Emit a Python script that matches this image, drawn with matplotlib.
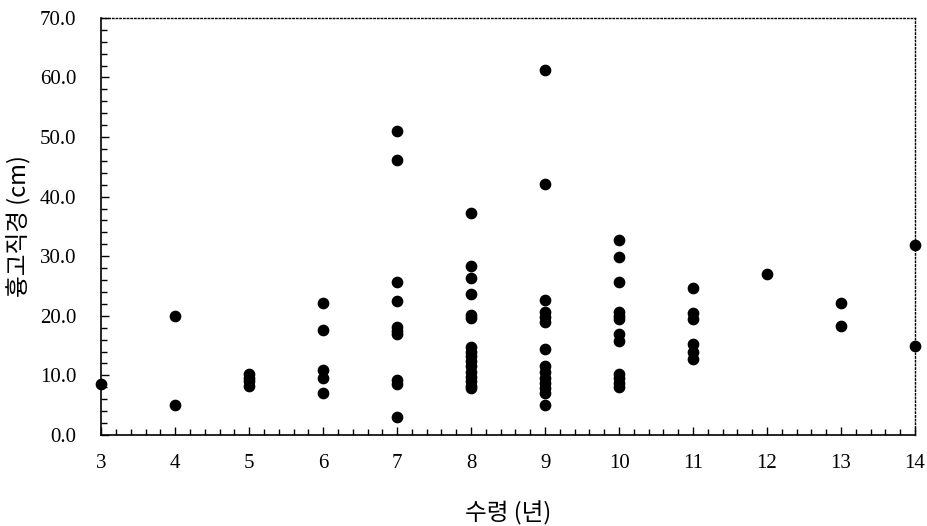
import numpy as np
import matplotlib.pyplot as plt
from matplotlib.ticker import MultipleLocator

plt.rcParams['font.family'] = ['Liberation Serif', 'DejaVu Serif']

# age (years) and DBH (cm)
age_3 = [8.6]
age_4 = [20.0, 5.0]
age_5 = [10.3, 9.6, 9.0, 8.3]
age_6 = [22.2, 17.6, 10.9, 9.5, 7.0]
age_7 = [51.0, 46.2, 25.6, 22.5, 18.1, 17.5, 16.9, 9.3, 8.5, 3.0]
age_8 = [37.2, 28.3, 26.3, 23.7, 20.2, 19.6, 14.8, 14.0, 13.2, 12.4,
         11.5, 10.6, 9.8, 9.0, 8.3, 7.9]
age_9 = [61.3, 42.1, 22.7, 20.6, 19.8, 19.0, 14.4, 11.6, 10.6, 9.6,
         8.7, 7.9, 7.1, 5.0]
age_10 = [32.7, 29.8, 25.7, 20.6, 20.0, 19.5, 16.9, 15.8, 10.3, 9.6,
          8.8, 8.0]
age_11 = [24.6, 20.4, 19.4, 15.3, 14.0, 12.7]
age_12 = [27.0]
age_13 = [22.1, 18.3]
age_14 = [31.9, 15.0]

columns = {3: age_3, 4: age_4, 5: age_5, 6: age_6, 7: age_7, 8: age_8,
           9: age_9, 10: age_10, 11: age_11, 12: age_12, 13: age_13, 14: age_14}

xs = []
ys = []
for age, vals in columns.items():
    xs += [age] * len(vals)
    ys += vals

fig = plt.figure(figsize=(9.28, 5.26), dpi=100)
ax = fig.add_axes([0.109, 0.173, 0.877, 0.793])

ax.scatter(xs, ys, s=55, color='black', zorder=3, clip_on=False)

ax.set_xlim(3, 14)
ax.set_ylim(0, 70)
ax.xaxis.set_major_locator(MultipleLocator(1))
ax.xaxis.set_minor_locator(MultipleLocator(0.2))
ax.yaxis.set_major_locator(MultipleLocator(10))
ax.yaxis.set_minor_locator(MultipleLocator(2))
ax.yaxis.set_major_formatter(plt.FuncFormatter(lambda v, p: f'{v:.1f}'))

ax.tick_params(which='both', direction='in', top=False, right=False,
               labelsize=15, width=1)
ax.tick_params(which='major', length=6)
ax.tick_params(which='minor', length=4)
ax.tick_params(axis='x', which='major', pad=14)
ax.tick_params(axis='y', which='major', pad=18)

for side in ['top', 'right']:
    ax.spines[side].set_linestyle(':')
    ax.spines[side].set_linewidth(1)
for side in ['left', 'bottom']:
    ax.spines[side].set_linewidth(1.2)

kfont = ['Noto Sans CJK KR', 'DejaVu Sans']
ax.set_xlabel('수령 (년)', family=kfont, fontsize=17, fontweight='medium', labelpad=20)
ax.set_ylabel('흉고직경 (cm)', family=kfont, fontsize=17, fontweight='medium', labelpad=6)

fig.savefig('out.png', dpi=100)
